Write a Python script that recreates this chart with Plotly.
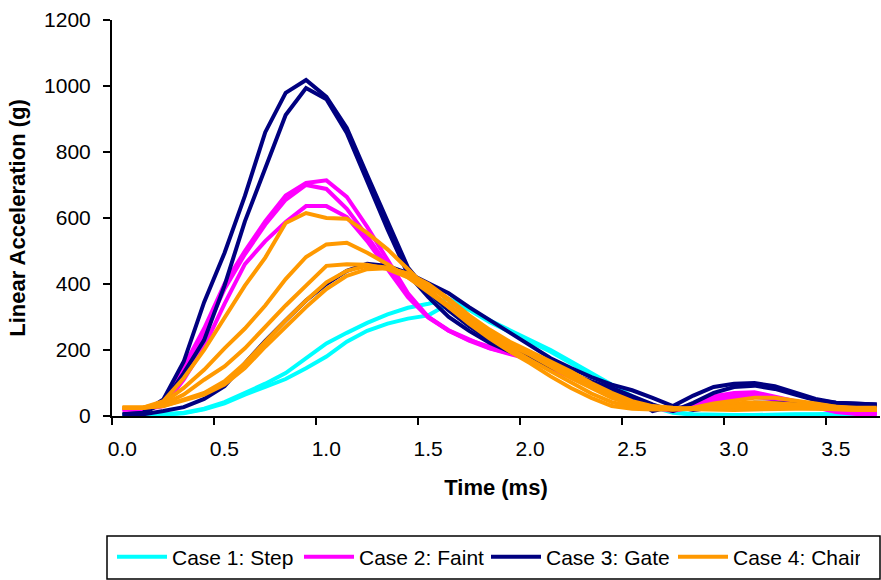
import plotly.graph_objects as go

time_ms = [0.0, 0.1, 0.2, 0.3, 0.4, 0.5, 0.6, 0.7, 0.8, 0.9,
           1.0, 1.1, 1.2, 1.3, 1.4, 1.5, 1.6, 1.7, 1.8, 1.9,
           2.0, 2.1, 2.2, 2.3, 2.4, 2.5, 2.6, 2.7, 2.8, 2.9,
           3.0, 3.1, 3.2, 3.3, 3.4, 3.5, 3.6, 3.7]

# Case 1: Step (cyan)
step_a = [3, 3, 5, 10, 22, 42, 70, 98, 130, 175, 220, 252, 282, 308, 328, 340, 355, 325, 290, 260,
          230, 200, 165, 130, 95, 60, 30, 12, 5, 3, 3, 3, 5, 5, 5, 8, 8, 8]
step_b = [2, 2, 4, 8, 20, 38, 65, 88, 112, 145, 180, 225, 258, 280, 295, 305, 340, 322, 285, 255,
          225, 195, 160, 125, 90, 55, 28, 10, 4, 2, 2, 3, 4, 4, 4, 5, 6, 6]

# Case 2: Faint (magenta)
faint_a = [20, 20, 35, 150, 265, 400, 500, 590, 668, 706, 714, 664, 573, 473, 372, 300, 260, 232, 206, 190,
           178, 150, 118, 90, 65, 45, 27, 18, 35, 60, 70, 72, 60, 45, 30, 15, 8, 8]
faint_b = [20, 20, 32, 140, 250, 385, 490, 580, 655, 700, 688, 628, 545, 455, 365, 300, 258, 228, 205, 188,
           172, 145, 115, 88, 65, 42, 25, 15, 28, 52, 62, 65, 55, 40, 25, 12, 6, 6]
faint_c = [20, 20, 30, 110, 210, 340, 460, 530, 588, 636, 636, 603, 530, 445, 360, 298, 258, 230, 210, 195,
           180, 150, 120, 92, 70, 48, 28, 18, 25, 45, 55, 58, 50, 38, 25, 15, 10, 10]

# Case 3: Gate (navy)
gate_a = [5, 10, 50, 165, 345, 494, 667, 860, 979, 1018, 967, 873, 730, 590, 450, 375, 320, 272, 232, 200,
          178, 152, 128, 105, 85, 60, 35, 15, 40, 70, 88, 92, 82, 65, 48, 40, 36, 35]
gate_b = [5, 8, 40, 130, 230, 395, 590, 755, 912, 994, 960, 858, 715, 565, 430, 360, 300, 258, 222, 195,
          172, 148, 124, 100, 80, 55, 15, 30, 62, 88, 98, 100, 90, 72, 52, 40, 36, 35]
gate_c = [3, 5, 15, 27, 52, 90, 160, 228, 290, 350, 400, 440, 461, 455, 433, 403, 372, 330, 291, 255,
          215, 175, 145, 118, 95, 78, 55, 30, 18, 25, 35, 40, 40, 35, 32, 30, 30, 30]

# Case 4: Chair (orange)
chair_a = [25, 25, 45, 115, 200, 300, 395, 480, 585, 615, 600, 598, 555, 505, 445, 385, 330, 280, 235, 195,
           160, 120, 85, 55, 30, 22, 20, 20, 20, 22, 25, 28, 28, 25, 22, 20, 18, 18]
chair_b = [25, 25, 40, 85, 140, 205, 265, 335, 415, 482, 520, 525, 495, 460, 420, 375, 330, 285, 245, 205,
           170, 135, 100, 68, 42, 28, 22, 20, 22, 30, 38, 42, 40, 35, 28, 22, 20, 18]
chair_c = [25, 25, 35, 65, 110, 150, 205, 270, 335, 395, 455, 460, 458, 445, 420, 380, 335, 290, 250, 215,
           185, 150, 115, 85, 55, 35, 25, 20, 25, 38, 48, 55, 55, 48, 38, 28, 22, 20]
chair_d = [25, 25, 30, 50, 70, 105, 160, 225, 290, 350, 405, 440, 455, 450, 430, 395, 350, 300, 255, 220,
           190, 160, 125, 95, 65, 40, 28, 22, 20, 18, 18, 20, 22, 22, 22, 20, 20, 20]
chair_e = [25, 25, 30, 48, 65, 95, 145, 210, 270, 330, 385, 425, 445, 448, 432, 400, 355, 305, 262, 225,
           195, 165, 135, 100, 70, 45, 30, 25, 22, 25, 30, 35, 38, 35, 30, 28, 25, 25]

case_names = ["Case 1: Step", "Case 2: Faint", "Case 3: Gate", "Case 4: Chair"]
case_colors = ["#00FFFF", "#FF00FF", "#000080", "#FF9900"]
case_series = [[step_a, step_b],
               [faint_a, faint_b, faint_c],
               [gate_a, gate_b, gate_c],
               [chair_a, chair_b, chair_c, chair_d, chair_e]]

x_tick_labels = ["0.0", "0.5", "1.0", "1.5", "2.0", "2.5", "3.0", "3.5"]
x_tick_marks = [-0.05, 0.45, 0.95, 1.45, 1.95, 2.45, 2.95, 3.45]
y_ticks = [0, 200, 400, 600, 800, 1000, 1200]

FONT = "Liberation Sans, Arial, sans-serif"

fig = go.Figure()
for name, color, group in zip(case_names, case_colors, case_series):
    for i, ys in enumerate(group):
        fig.add_trace(go.Scatter(
            x=time_ms, y=ys, mode="lines", name=name,
            legendgroup=name, showlegend=(i == 0),
            line=dict(color=color, width=4),
        ))

fig.update_layout(
    width=881, height=580,
    margin=dict(l=112, r=1, t=20, b=164),
    paper_bgcolor="white", plot_bgcolor="white",
    font=dict(family=FONT, size=21, color="black"),
    showlegend=True,
    legend=dict(
        orientation="h",
        xref="container", yref="container",
        x=112 / 881, y=1 - 557 / 580, xanchor="left", yanchor="middle",
        font=dict(family=FONT, size=21, color="black"),
        bgcolor="rgba(0,0,0,0)", borderwidth=0,
        itemwidth=50, entrywidthmode="pixels", entrywidth=122,
        tracegroupgap=0,
    ),
    xaxis=dict(
        range=[-0.052, 3.716],
        tickmode="array", tickvals=x_tick_marks, ticktext=x_tick_labels,
        ticklabelshift=10, ticklabelstandoff=6,
        ticks="outside", ticklen=7, tickwidth=2, tickcolor="black",
        showline=True, linecolor="black", linewidth=2,
        showgrid=False, zeroline=False,
        tickfont=dict(family=FONT, size=21, color="black"),
        title=dict(text="<b>Time (ms)</b>", standoff=20,
                   font=dict(family=FONT, size=22, color="black")),
    ),
    yaxis=dict(
        range=[0, 1200],
        tickmode="array", tickvals=y_ticks,
        ticks="outside", ticklen=7, tickwidth=2, tickcolor="black",
        ticklabelstandoff=8,
        showline=True, linecolor="black", linewidth=2,
        showgrid=False, zeroline=False,
        tickfont=dict(family=FONT, size=21, color="black"),
        title=dict(text="<b>Linear Acceleration (g)</b>", standoff=12,
                   font=dict(family=FONT, size=22, color="black")),
    ),
    shapes=[dict(type="rect", xref="paper", yref="paper",
                 x0=(107 - 112) / 768, x1=(880 - 112) / 768,
                 y0=(416 - 579) / 396, y1=(416 - 536) / 396,
                 line=dict(color="black", width=1.5), fillcolor="rgba(0,0,0,0)",
                 layer="below")],
)

fig.write_html("out.html")
